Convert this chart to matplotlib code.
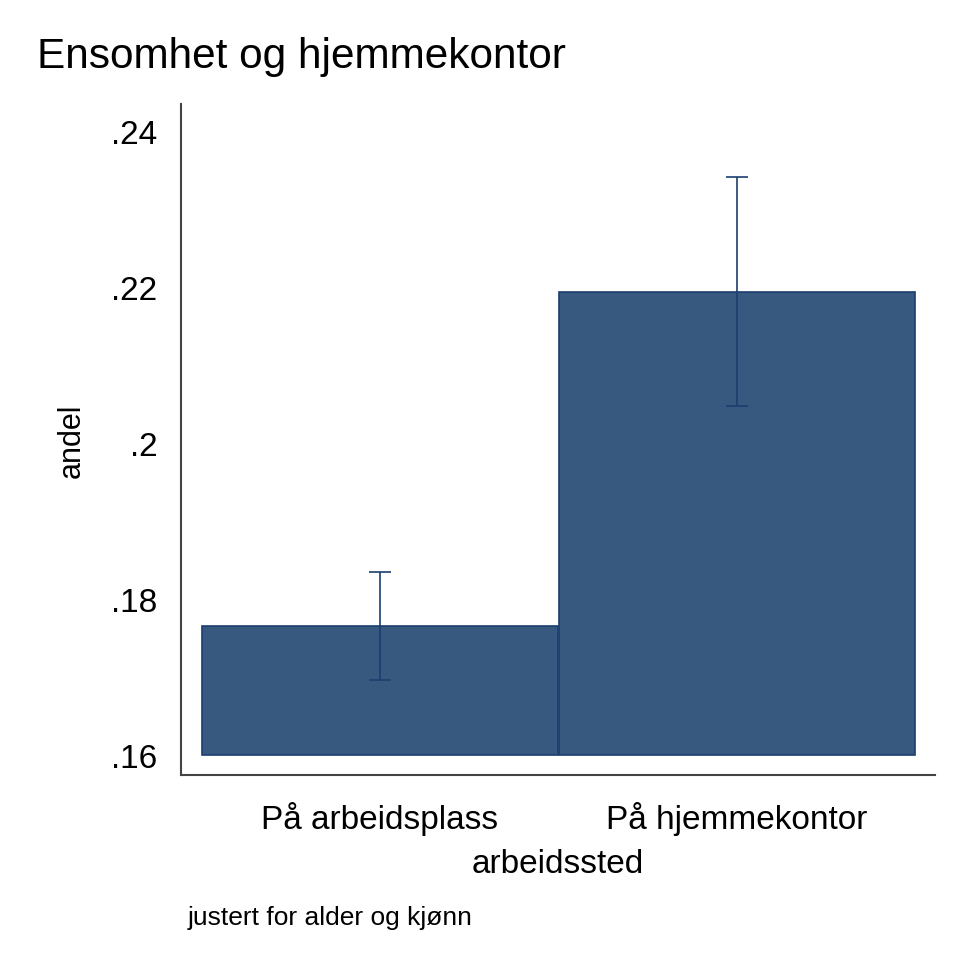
import matplotlib.pyplot as plt

plt.rcParams['font.family'] = ['Liberation Sans', 'DejaVu Sans']

# data
categories = ["På arbeidsplass", "På hjemmekontor"]
andel = [0.1765, 0.2194]
ci_low = [0.1696, 0.2047]
ci_high = [0.1835, 0.2341]
yticks = [0.16, 0.18, 0.20, 0.22, 0.24]
ytick_labels = [".16", ".18", ".2", ".22", ".24"]

base = 0.16
fill = '#37587f'
edge = '#1b3e6e'

fig = plt.figure(figsize=(9.7, 9.7), dpi=100)
ax = fig.add_axes([0.1866, 0.2, 0.7774, 0.6918])

x = list(range(len(categories)))
heights = [v - base for v in andel]
ax.bar(x, heights, width=0.997, bottom=base, color=fill, edgecolor=edge, linewidth=1.2)

err_lo = [v - lo for v, lo in zip(andel, ci_low)]
err_hi = [hi - v for v, hi in zip(andel, ci_high)]
ax.errorbar(x, andel, yerr=[err_lo, err_hi], fmt='none', ecolor=edge,
            elinewidth=1.2, capsize=8, capthick=1.2)

ax.set_xlim(-0.557, 1.555)
ax.set_ylim(0.1574, 0.2435)
ax.set_yticks(yticks)
ax.set_yticklabels(ytick_labels)
ax.set_xticks(x)
ax.set_xticklabels(categories)
ax.tick_params(axis='both', length=0, labelsize=24)
ax.tick_params(axis='x', pad=19)
ax.tick_params(axis='y', pad=17)

for s in ['top', 'right']:
    ax.spines[s].set_visible(False)
for s in ['left', 'bottom']:
    ax.spines[s].set_color('#444444')
    ax.spines[s].set_linewidth(1.5)

ax.set_ylabel("andel", fontsize=22)
ax.yaxis.set_label_coords(-0.125, 0.5)
ax.set_xlabel("arbeidssted", fontsize=24, labelpad=9)

fig.text(0.038, 0.93, "Ensomhet og hjemmekontor", fontsize=30.5, ha='left', va='baseline')
fig.text(0.193, 0.054, "justert for alder og kjønn", fontsize=19, ha='left', va='center')

plt.savefig('out.png', dpi=100)
